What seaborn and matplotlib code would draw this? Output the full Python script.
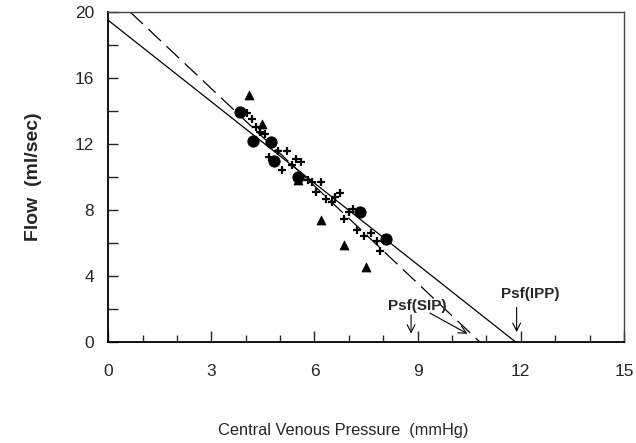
import matplotlib
matplotlib.use("Agg")
import matplotlib.pyplot as plt
from matplotlib.ticker import MultipleLocator
import numpy as np
import seaborn as sns

# Circles (filled)
circle_x = [3.84, 4.22, 4.73, 4.83, 5.53, 7.33, 8.07]
circle_y = [13.96, 12.18, 12.14, 10.97, 10.0, 7.86, 6.22]

# Triangles (filled)
tri_x = [4.10, 4.47, 5.51, 6.19, 6.86, 7.50]
tri_y = [14.97, 13.19, 9.82, 7.39, 5.88, 4.57]

# Plus signs
plus_x = [4.05, 4.18, 4.30, 4.42, 4.55, 4.69, 4.95, 5.19, 5.05, 5.47, 5.61, 5.34,
          5.80, 5.92, 6.18, 6.04, 6.34, 6.50, 6.74, 6.60, 7.11, 7.01, 6.86, 7.23,
          7.45, 7.65, 7.81, 7.92]
plus_y = [13.9, 13.5, 13.05, 12.75, 12.6, 11.2, 11.55, 11.6, 10.45, 11.1, 10.9, 10.7,
          9.8, 9.7, 9.7, 9.1, 8.65, 8.5, 9.05, 8.8, 8.05, 7.9, 7.45, 6.8,
          6.4, 6.6, 6.1, 5.5]

# Fitted lines: (flow intercept at CVP=0, pressure intercept at flow=0)
ipp_line = (19.5, 11.85)   # solid
sip_line = (21.26, 10.81)  # dashed

x_ticks = [0, 3, 6, 9, 12, 15]
y_ticks = [0, 4, 8, 12, 16, 20]

sns.set_style("ticks")
plt.rcParams['font.family'] = ['Liberation Sans', 'DejaVu Sans']

fig = plt.figure(figsize=(6.36, 4.43), dpi=100)
ax = fig.add_axes([0.170, 0.228, 0.811, 0.745])


def line_xy(b0, xint):
    slope = -b0 / xint
    x0 = (20 - b0) / slope if b0 > 20 else 0.0
    xs = np.array([x0, xint])
    return xs, b0 + slope * xs


xs, ys = line_xy(*ipp_line)
sns.lineplot(x=xs, y=ys, ax=ax, color="black", lw=0.9, estimator=None, sort=False)
xs, ys = line_xy(*sip_line)
sns.lineplot(x=xs, y=ys, ax=ax, color="black", lw=0.9, estimator=None, sort=False)
ax.lines[-1].set_dashes((14, 6))

sns.scatterplot(x=plus_x, y=plus_y, ax=ax, marker="+", s=28, color="black",
                linewidths=1.6, zorder=3)
sns.scatterplot(x=tri_x, y=tri_y, ax=ax, marker="^", s=42, color="black",
                edgecolor="black", zorder=3)
sns.scatterplot(x=circle_x, y=circle_y, ax=ax, marker="o", s=66, color="black",
                edgecolor="black", zorder=3)

ax.set_xlim(0, 15)
ax.set_ylim(0, 20)
ax.set_xticks(x_ticks)
ax.set_yticks(y_ticks)
ax.xaxis.set_minor_locator(MultipleLocator(1))
ax.yaxis.set_minor_locator(MultipleLocator(2))
ax.tick_params(axis="x", which="major", direction="in", length=8, width=1,
               labelsize=12.5, pad=16)
ax.tick_params(axis="x", which="minor", direction="in", length=5, width=1)
ax.tick_params(axis="y", which="both", direction="in", length=7, width=1,
               labelsize=12.5, pad=10)

for side in ["left", "bottom"]:
    ax.spines[side].set_linewidth(1.3)
    ax.spines[side].set_color("black")
for side in ["top", "right"]:
    ax.spines[side].set_visible(True)
    ax.spines[side].set_linewidth(1.0)
    ax.spines[side].set_color("#444444")

ax.set_xlabel("Central Venous Pressure  (mmHg)", fontsize=11.8)
ax.xaxis.set_label_coords(0.455, -0.245)
ax.set_ylabel("Flow  (ml/sec)", fontsize=14, fontweight="bold", labelpad=24)

# Annotations
ax.text(9.0, 2.2, "Psf(SIP)", fontsize=11, fontweight="bold", ha="center", va="center")
ax.text(12.27, 2.9, "Psf(IPP)", fontsize=11, fontweight="bold", ha="center", va="center")
arrow = dict(arrowstyle="->", color="black", lw=0.8, shrinkA=0, shrinkB=0,
             mutation_scale=14)
ax.annotate("", xy=(8.81, 0.5), xytext=(8.81, 1.65), arrowprops=arrow)
ax.annotate("", xy=(11.88, 0.6), xytext=(11.88, 2.1), arrowprops=arrow)
ax.annotate("", xy=(10.45, 0.5), xytext=(9.36, 1.75), arrowprops=arrow)

fig.savefig("out.png", dpi=100)
